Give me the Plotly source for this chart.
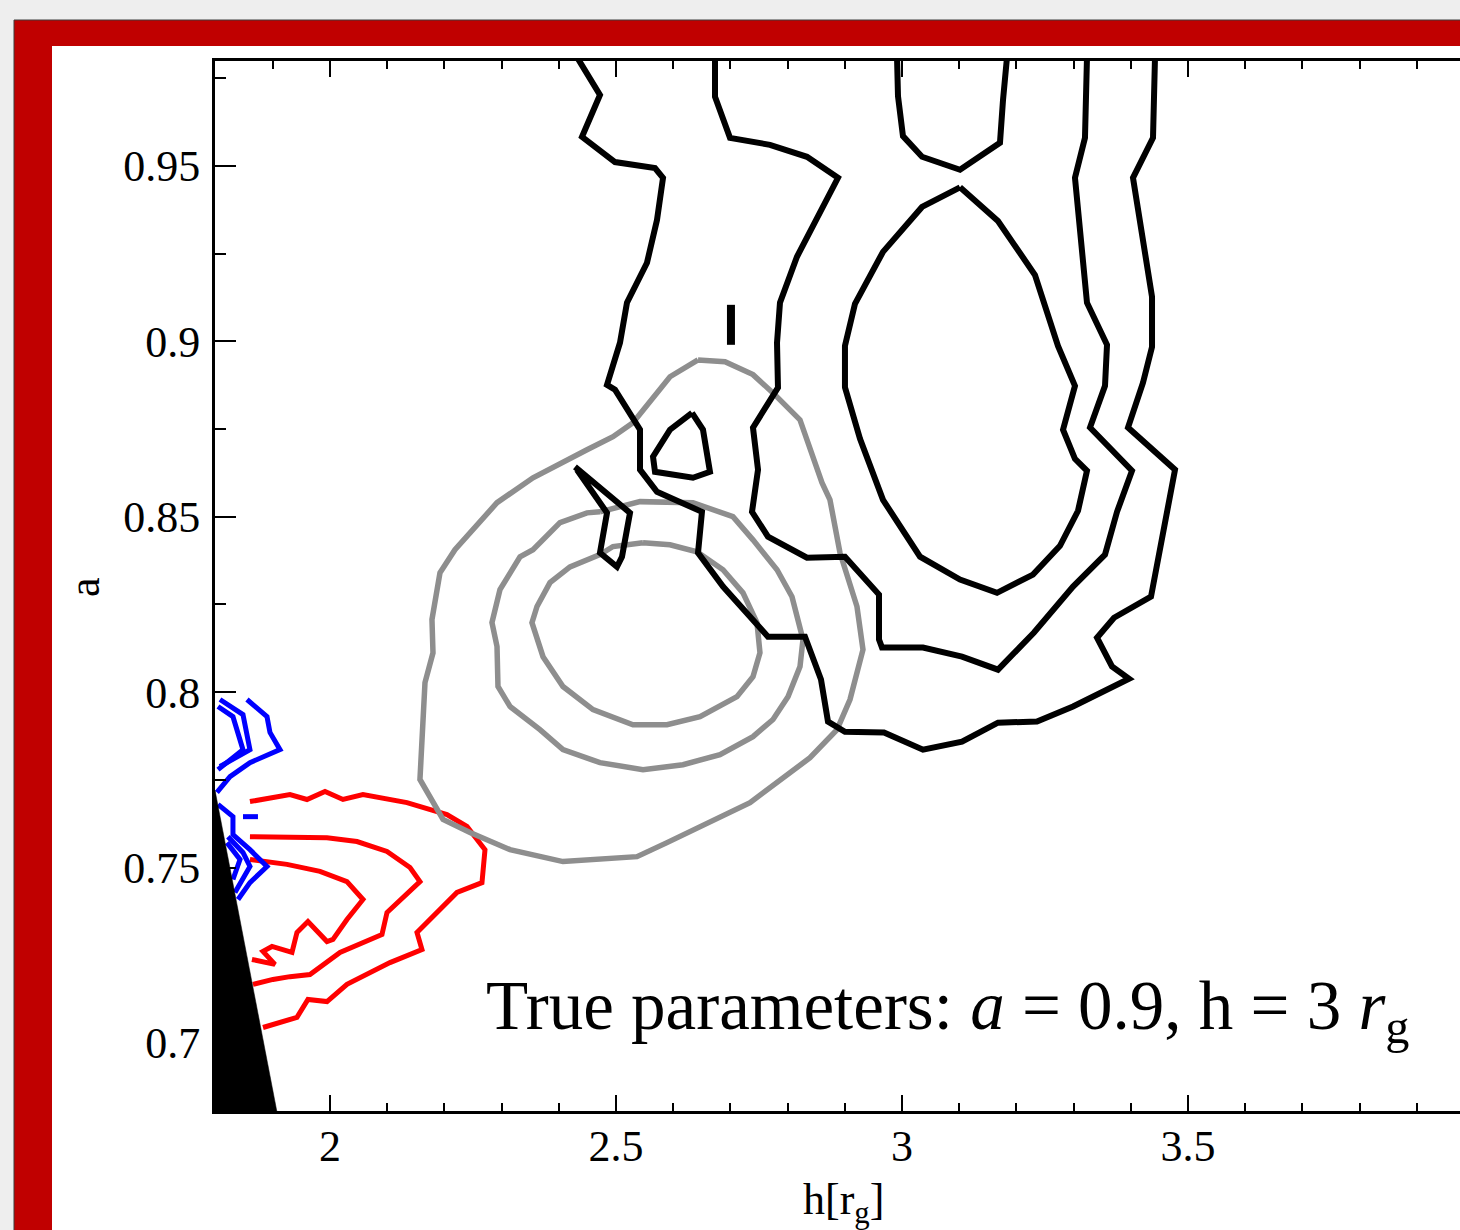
import plotly.graph_objects as go

# ---------------- data: h [r_g] and spin a ----------------
x_tickvals = [2.0, 2.5, 3.0, 3.5]
x_ticktext = ["2", "2.5", "3", "3.5"]
x_minorvals = [1.9, 2.1, 2.2, 2.3, 2.4, 2.6, 2.7, 2.8, 2.9, 3.1, 3.2, 3.3, 3.4, 3.6, 3.7, 3.8, 3.9]
y_tickvals = [0.7, 0.75, 0.8, 0.85, 0.9, 0.95]
y_ticktext = ["0.7", "0.75", "0.8", "0.85", "0.9", "0.95"]
y_minorvals = [0.725, 0.775, 0.825, 0.875, 0.925, 0.975]

# black contours
black_outer_h = [2.4318, 2.4720, 2.4406, 2.4983, 2.5682, 2.5822, 2.5717, 2.5542, 2.5192, 2.5070, 2.4843, 2.4983,
                 2.5420, 2.5420, 2.5717, 2.6503, 2.6434, 2.6871, 2.7657, 2.8304, 2.8584, 2.8706, 2.9003, 2.9685,
                 3.0367, 3.1049, 3.1678, 3.2360, 3.2990, 3.3969, 3.3671, 3.3409, 3.3706, 3.4353, 3.4773, 3.3951,
                 3.4213, 3.4371, 3.4371, 3.4283, 3.4038, 3.4388, 3.4423]
black_outer_a = [0.981, 0.9702, 0.9583, 0.9511, 0.9494, 0.9466, 0.9346, 0.9224, 0.9110, 0.8996, 0.8876, 0.8862,
                 0.8748, 0.8634, 0.8571, 0.8514, 0.8397, 0.8301, 0.8158, 0.8158, 0.8036, 0.7916, 0.7887, 0.7885,
                 0.7836, 0.7859, 0.7913, 0.7916, 0.7959, 0.8038, 0.8073, 0.8155, 0.8212, 0.8272, 0.8634, 0.8754,
                 0.8882, 0.8984, 0.9127, 0.9224, 0.9466, 0.9580, 0.981]

black_mid_h = [2.6731, 2.6731, 2.6993, 2.7692, 2.8339, 2.8881, 2.8164, 2.7867, 2.7815, 2.7832, 2.7395, 2.7483,
               2.7378, 2.7657, 2.8339, 2.9003, 2.9598, 2.9598, 2.9650, 3.0367, 3.1049, 3.1678, 3.2308, 3.2990,
               3.3549, 3.3759, 3.4021, 3.3287, 3.3549, 3.3584, 3.3234, 3.3024, 3.3199, 3.3234]
black_mid_a = [0.981, 0.9697, 0.9580, 0.9560, 0.9526, 0.9466, 0.9241, 0.9110, 0.8996, 0.8868, 0.8754, 0.8634,
               0.8514, 0.8443, 0.8383, 0.8386, 0.8278, 0.8150, 0.8127, 0.8127, 0.8101, 0.8064, 0.8170, 0.8301,
               0.8392, 0.8514, 0.8631, 0.8754, 0.8873, 0.8990, 0.9110, 0.9466, 0.9580, 0.981]

black_cap_h = [2.9913, 2.9930, 3.0017, 3.0350, 3.1014, 3.1713, 3.1766, 3.1836]
black_cap_a = [0.981, 0.9699, 0.9585, 0.9526, 0.9489, 0.9566, 0.9688, 0.981]

black_inner_h = [3.1014, 3.0350, 2.9668, 2.9178, 2.9003, 2.9003, 2.9266, 2.9668, 3.0315, 3.1014, 3.1661, 3.2290,
                 3.2762, 3.3077, 3.3234, 3.3024, 3.2815, 3.3024, 3.2727, 3.2535, 3.2325, 3.1678, 3.1014]
black_inner_a = [0.9439, 0.9383, 0.9255, 0.9107, 0.8987, 0.8869, 0.8722, 0.8548, 0.8386, 0.8321, 0.8283, 0.8335,
                 0.8417, 0.8517, 0.8631, 0.8665, 0.8748, 0.8873, 0.8987, 0.9078, 0.9189, 0.9343, 0.9439]

black_dash_h = [2.7010, 2.7010]
black_dash_a = [0.9104, 0.8990]

black_tri_h = [2.6329, 2.6521, 2.6643, 2.6346, 2.5682, 2.5647, 2.5944, 2.6329]
black_tri_a = [0.8796, 0.8748, 0.8628, 0.8611, 0.8628, 0.8671, 0.8748, 0.8796]

black_sliver_h = [2.4283, 2.5245, 2.5105, 2.5017, 2.4720, 2.4843, 2.4318]
black_sliver_a = [0.8642, 0.8511, 0.8386, 0.8357, 0.8397, 0.8511, 0.8634]

# grey contours
grey_outer_h = [2.6434, 2.6906, 2.7395, 2.7745, 2.8217, 2.8601, 2.8741, 2.8916, 2.9213, 2.9318, 2.9091, 2.8864,
                2.8392, 2.7343, 2.5892, 2.5367, 2.4073, 2.3147, 2.2448, 2.1976, 2.1573, 2.1661, 2.1801, 2.1783,
                2.1923, 2.2185, 2.2920, 2.3549, 2.4493, 2.4948, 2.5297, 2.5892, 2.5944, 2.6434]
grey_outer_a = [0.8947, 0.8942, 0.8905, 0.8853, 0.8776, 0.8597, 0.8548, 0.8397, 0.8244, 0.8121, 0.7979, 0.7893,
                0.7813, 0.7685, 0.7571, 0.7531, 0.7517, 0.7551, 0.7600, 0.7637, 0.7751, 0.8027, 0.8112, 0.8207,
                0.8340, 0.8406, 0.8540, 0.8611, 0.8691, 0.8728, 0.8768, 0.8885, 0.8899, 0.8947]

grey_mid_h = [2.4720, 2.5420, 2.6346, 2.7045, 2.7395, 2.7815, 2.8077, 2.8269, 2.8217, 2.8007, 2.7745, 2.7395,
              2.6818, 2.6171, 2.5472, 2.4720, 2.4073, 2.3671, 2.3147, 2.2937, 2.2920, 2.2832, 2.2972, 2.3322,
              2.3549, 2.4021, 2.4493, 2.4720]
grey_mid_a = [0.8514, 0.8543, 0.8540, 0.8500, 0.8434, 0.8349, 0.8272, 0.8150, 0.8073, 0.7987, 0.7922, 0.7873,
              0.7822, 0.7793, 0.7779, 0.7799, 0.7836, 0.7893, 0.7959, 0.8016, 0.8130, 0.8198, 0.8292, 0.8386,
              0.8406, 0.8483, 0.8511, 0.8514]

grey_inner_h = [2.5472, 2.5944, 2.6416, 2.6871, 2.7220, 2.7465, 2.7517, 2.7395, 2.7115, 2.6469, 2.5892, 2.5297,
                2.4598, 2.4073, 2.3724, 2.3531, 2.3619, 2.3846, 2.4196, 2.4720, 2.4948, 2.5472]
grey_inner_a = [0.8426, 0.8420, 0.8400, 0.8349, 0.8283, 0.8198, 0.8112, 0.8044, 0.7987, 0.7930, 0.7907, 0.7907,
                0.7950, 0.8016, 0.8101, 0.8198, 0.8244, 0.8312, 0.8357, 0.8392, 0.8415, 0.8426]

# red contours
red_outer_h = [1.8601, 1.9301, 1.9598, 1.9913, 2.0227, 2.0577, 2.1346, 2.2045, 2.2395, 2.2710, 2.2657, 2.2220,
               2.1521, 2.1608, 2.1049, 2.0297, 1.9948, 1.9615, 1.9423, 1.8829]
red_outer_a = [0.7688, 0.7708, 0.7694, 0.7717, 0.7694, 0.7708, 0.7685, 0.7651, 0.7617, 0.7551, 0.7457, 0.7429,
               0.7315, 0.7266, 0.7229, 0.7167, 0.7118, 0.7124, 0.7073, 0.7044]

red_mid_h = [1.8601, 1.9948, 2.0472, 2.0997, 2.1399, 2.1573, 2.0997, 2.0909, 2.0175, 1.9650, 1.9301, 1.9003, 1.8654]
red_mid_a = [0.7588, 0.7585, 0.7574, 0.7546, 0.7500, 0.7460, 0.7372, 0.7309, 0.7258, 0.7195, 0.7189, 0.7181, 0.7167]

red_inner_h = [1.8601, 1.9248, 1.9825, 2.0297, 2.0577, 2.0297, 2.0052, 1.9948, 1.9615, 1.9423, 1.9336, 1.8986,
               1.8829, 1.9038, 1.8636]
red_inner_a = [0.7523, 0.7509, 0.7489, 0.7460, 0.7409, 0.7352, 0.7295, 0.7289, 0.7346, 0.7315, 0.7258, 0.7275,
               0.7261, 0.7224, 0.7238]

# blue contours
blue_top1_h = [1.8549, 1.8899, 1.8951, 1.9126, 1.8601, 1.8252, 1.8024]
blue_top1_a = [0.7979, 0.7930, 0.7885, 0.7836, 0.7799, 0.7759, 0.7714]
blue_top2_h = [1.8077, 1.8479, 1.8601, 1.8077]
blue_top2_a = [0.7979, 0.7936, 0.7836, 0.7788]
blue_top3_h = [1.8042, 1.8304, 1.8479, 1.8042]
blue_top3_a = [0.7959, 0.7930, 0.7836, 0.7779]
blue_low1_h = [1.8042, 1.8304, 1.8304, 1.8601, 1.8899, 1.8601, 1.8392]
blue_low1_a = [0.7680, 0.7645, 0.7594, 0.7551, 0.7503, 0.7457, 0.7409]
blue_low2_h = [1.8217, 1.8479, 1.8601, 1.8462, 1.8339]
blue_low2_a = [0.7588, 0.7543, 0.7503, 0.7466, 0.7429]
blue_low3_h = [1.8199, 1.8427, 1.8304]
blue_low3_a = [0.7571, 0.7523, 0.7466]
blue_dash_h = [1.8479, 1.8741]
blue_dash_a = [0.7645, 0.7645]

# excluded region (black wedge)
excl_h = [1.799, 1.907, 1.799, 1.799]
excl_a = [0.772, 0.6806, 0.6806, 0.772]

x_range = [1.799, 3.9755]
y_range = [0.6806, 0.9799]

# ---------------- figure ----------------
W, H = 1460, 1230
ML, MR, MT, MB = 215, 0, 61, 119
PW, PH = W - ML - MR, H - MT - MB


def fx(px):
    return (px - ML) / PW


def fy(py):
    return (H - MB - py) / PH


fig = go.Figure()


def add_line(xs, ys, color, width):
    fig.add_trace(go.Scatter(x=xs, y=ys, mode="lines",
                             line=dict(color=color, width=width),
                             hoverinfo="skip", showlegend=False))


RED = "#FF0000"
BLUE = "#0000FF"
GREY = "#8E8E8E"
BLACK = "#000000"

for xs, ys in [(red_outer_h, red_outer_a), (red_mid_h, red_mid_a), (red_inner_h, red_inner_a)]:
    add_line(xs, ys, RED, 5)
for xs, ys in [(blue_top1_h, blue_top1_a), (blue_top2_h, blue_top2_a), (blue_top3_h, blue_top3_a),
               (blue_low1_h, blue_low1_a), (blue_low2_h, blue_low2_a), (blue_low3_h, blue_low3_a),
               (blue_dash_h, blue_dash_a)]:
    add_line(xs, ys, BLUE, 5)
for xs, ys in [(grey_outer_h, grey_outer_a), (grey_mid_h, grey_mid_a), (grey_inner_h, grey_inner_a)]:
    add_line(xs, ys, GREY, 5.5)
for xs, ys in [(black_outer_h, black_outer_a), (black_mid_h, black_mid_a), (black_cap_h, black_cap_a),
               (black_inner_h, black_inner_a), (black_tri_h, black_tri_a),
               (black_sliver_h, black_sliver_a)]:
    add_line(xs, ys, BLACK, 6)
add_line(black_dash_h, black_dash_a, BLACK, 8)

fig.add_trace(go.Scatter(x=excl_h, y=excl_a, mode="lines", fill="toself",
                         fillcolor="black", line=dict(color="black", width=0.5),
                         hoverinfo="skip", showlegend=False))

SERIF = "Liberation Serif, Times New Roman, serif"
tickfont = dict(family=SERIF, size=44, color="black")

fig.update_xaxes(range=x_range, tickmode="array", tickvals=x_tickvals, ticktext=x_ticktext,
                 ticks="inside", ticklen=16, tickwidth=2, tickcolor="black",
                 showline=True, linecolor="black", linewidth=3, mirror="ticks",
                 showgrid=False, zeroline=False, tickfont=tickfont, ticklabelstandoff=-6,
                 minor=dict(tickmode="array", tickvals=x_minorvals, ticks="inside",
                            ticklen=8, tickwidth=1.5, tickcolor="black", showgrid=False))
fig.update_yaxes(range=y_range, tickmode="array", tickvals=y_tickvals, ticktext=y_ticktext,
                 ticks="inside", ticklen=21, tickwidth=2, tickcolor="black",
                 showline=True, linecolor="black", linewidth=3, mirror=False,
                 showgrid=False, zeroline=False, tickfont=tickfont, ticklabelstandoff=3,
                 minor=dict(tickmode="array", tickvals=y_minorvals, ticks="inside",
                            ticklen=11, tickwidth=1.5, tickcolor="black", showgrid=False))

shapes = [
    dict(type="rect", xref="paper", yref="paper", layer="below",
         x0=fx(14), x1=fx(1480), y0=fy(1250), y1=fy(20),
         fillcolor="#C00000", line=dict(color="#3C3C3C", width=1)),
    dict(type="rect", xref="paper", yref="paper", layer="below",
         x0=fx(52), x1=fx(1480), y0=fy(1250), y1=fy(46),
         fillcolor="white", line=dict(width=0)),
]

annotations = [
    dict(text="a", xref="paper", yref="paper", x=fx(84), y=fy(587), textangle=-90,
         showarrow=False, xanchor="center", yanchor="middle",
         font=dict(family=SERIF, size=44, color="black")),
    dict(text="h[r<sub>g</sub>]", xref="paper", yref="paper", x=fx(843), y=fy(1202),
         showarrow=False, xanchor="center", yanchor="middle",
         font=dict(family=SERIF, size=44, color="black")),
    dict(text="True parameters: <i>a</i> = 0.9, h = 3 <i>r</i><sub>g</sub>",
         xref="paper", yref="paper", x=fx(484), y=fy(1010),
         showarrow=False, xanchor="left", yanchor="middle",
         font=dict(family=SERIF, size=69, color="black")),
]

fig.update_layout(width=W, height=H, margin=dict(l=ML, r=MR, t=MT, b=MB, pad=0),
                  paper_bgcolor="#EEEEEE", plot_bgcolor="white",
                  shapes=shapes, annotations=annotations, showlegend=False)

fig.write_html("out.html")
